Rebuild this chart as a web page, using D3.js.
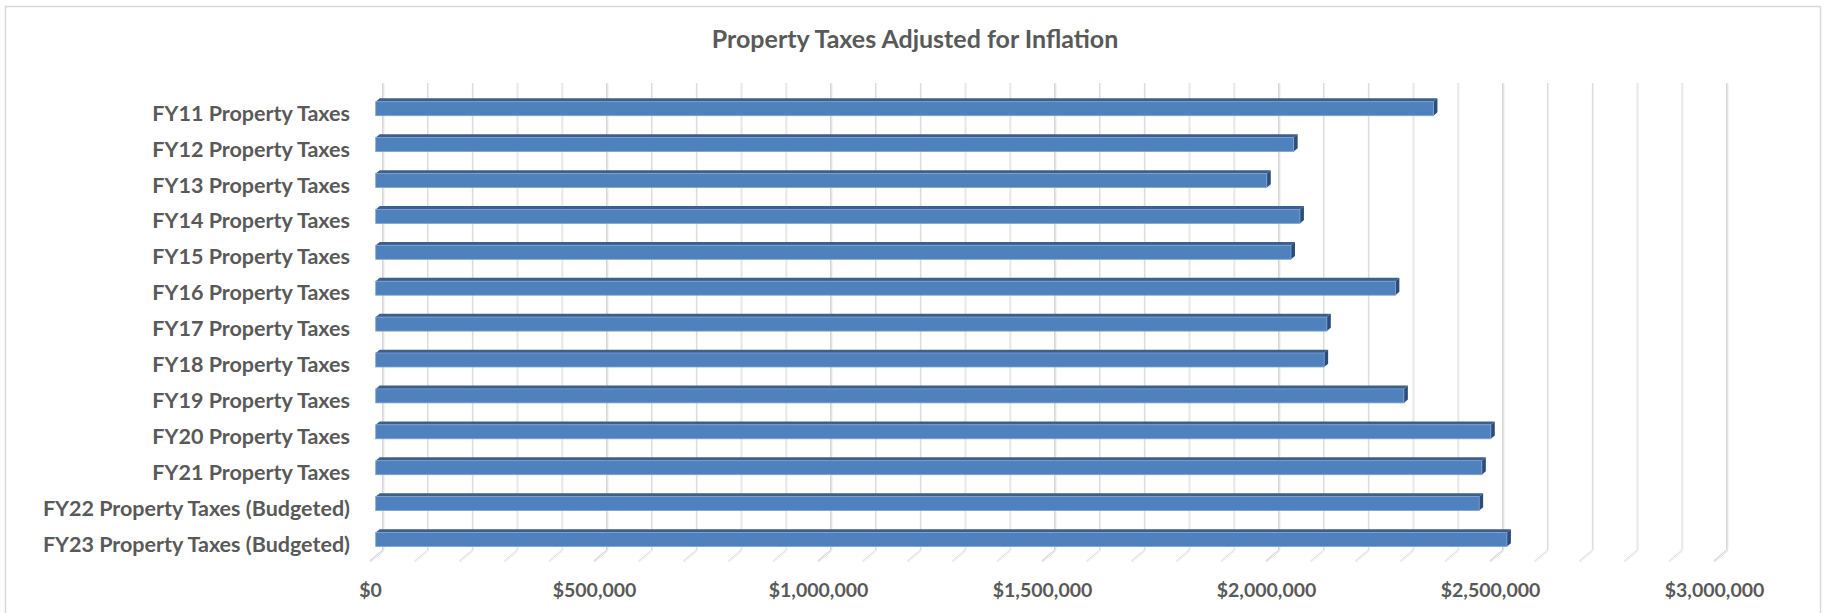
<!DOCTYPE html>
<html>
<head>
<meta charset="utf-8">
<script src="https://cdn.jsdelivr.net/npm/d3@7"></script>
<style>
  html, body { margin: 0; padding: 0; background: #ffffff; }
  svg { display: block; }
  text { font-family: Lato, "Open Sans", sans-serif; font-weight: 700; fill: #595959; }
</style>
</head>
<body>
<svg id="chart" width="1825" height="613"></svg>
<script>
// Property tax collections, inflation adjusted (USD)
const categories = [
  "FY11 Property Taxes",
  "FY12 Property Taxes",
  "FY13 Property Taxes",
  "FY14 Property Taxes",
  "FY15 Property Taxes",
  "FY16 Property Taxes",
  "FY17 Property Taxes",
  "FY18 Property Taxes",
  "FY19 Property Taxes",
  "FY20 Property Taxes",
  "FY21 Property Taxes",
  "FY22 Property Taxes (Budgeted)",
  "FY23 Property Taxes (Budgeted)"
];
const values = [2361000, 2049000, 1989000, 2063000, 2043000, 2276000, 2123000, 2117000, 2295000, 2489000, 2469000, 2463000, 2525000];
const tickValues = [0, 500000, 1000000, 1500000, 2000000, 2500000, 3000000];
const chartTitle = "Property Taxes Adjusted for Inflation";

const svg = d3.select("#chart");

// outer chart frame
svg.append("rect")
  .attr("x", 5.5).attr("y", 6.5)
  .attr("width", 1815).attr("height", 640)
  .attr("fill", "#ffffff").attr("stroke", "#d9d9d9").attr("stroke-width", 1.5);

// title
svg.append("text")
  .attr("x", 915).attr("y", 47.5)
  .attr("text-anchor", "middle")
  .style("font-size", "25px")
  .text(chartTitle);

// 3-D geometry: back wall plane and the oblique depth vector toward the viewer
const wallTop = 83, wallBottom = 550;
const depth = { dx: -13.3, dy: 11.2 };      // back wall -> front floor edge
const barFront = 0.57, barBack = 0.27;       // fraction of depth, measured from the back wall

const x = d3.scaleLinear().domain([0, 3000000]).range([383.3, 1727.3]);
const y = d3.scaleBand().domain(categories)
  .range([94.45, 561.15])
  .paddingInner(0.61).paddingOuter(0.305);

// positions on the bars' front plane
const fx = v => x(v) + depth.dx * barFront;
const fy = c => y(c) - 3.7;   // front face top edge
const bw = y.bandwidth();
const bdx = depth.dx * (barBack - barFront);   // bar depth offset (positive = to the right)
const bdy = depth.dy * (barBack - barFront);   // negative = upward

// wall gridlines every 100,000 (majors every 500,000 slightly darker)
const grid = x.ticks(30);
const gridG = svg.append("g");
grid.forEach(v => {
  const major = v % 500000 === 0;
  const gx = x(v);
  gridG.append("line")
    .attr("x1", gx - 0.5).attr("x2", gx - 0.5)
    .attr("y1", wallTop).attr("y2", wallBottom)
    .attr("stroke", major ? "#c6c6c6" : "#d9d9d9").attr("stroke-width", 1);
  gridG.append("line")
    .attr("x1", gx + 0.5).attr("x2", gx + 0.5)
    .attr("y1", wallTop).attr("y2", wallBottom)
    .attr("stroke", major ? "#e2e2e2" : "#ededed").attr("stroke-width", 1);
  // floor lines running toward the viewer
  gridG.append("line")
    .attr("x1", gx - 0.5).attr("y1", wallBottom)
    .attr("x2", gx - 0.5 + depth.dx).attr("y2", wallBottom + depth.dy)
    .attr("stroke", major ? "#c6c6c6" : "#d9d9d9").attr("stroke-width", 1);
  gridG.append("line")
    .attr("x1", gx + 0.7).attr("y1", wallBottom + 0.8)
    .attr("x2", gx + 0.7 + depth.dx).attr("y2", wallBottom + 0.8 + depth.dy)
    .attr("stroke", major ? "#e2e2e2" : "#ebebeb").attr("stroke-width", 1);
});

// bars: top face, right side face, front face
const bars = svg.append("g").selectAll("g").data(categories).join("g");
bars.append("path")
  .attr("d", (c, i) => {
    const x0 = fx(0), x1 = fx(values[i]), t = fy(c);
    return `M${x0},${t}L${x1},${t}L${x1 + bdx},${t + bdy}L${x0 + bdx},${t + bdy}Z`;
  })
  .attr("fill", "#3c5f8e");
bars.append("path")
  .attr("d", (c, i) => {
    const x1 = fx(values[i]), t = fy(c);
    return `M${x1},${t}L${x1 + bdx},${t + bdy}L${x1 + bdx},${t + bw + bdy}L${x1},${t + bw}Z`;
  })
  .attr("fill", "#2c4d79");
bars.append("rect")
  .attr("x", fx(0))
  .attr("y", c => fy(c))
  .attr("width", (c, i) => fx(values[i]) - fx(0))
  .attr("height", bw)
  .attr("fill", "#4f81bd")
  .attr("stroke", "#7ea2d2").attr("stroke-width", 0.8);

// category axis labels along the front-left edge
const catAxis = d3.axisLeft(y).tickSize(0).tickPadding(0);
svg.append("g")
  .attr("transform", "translate(350,1.5)")
  .call(catAxis)
  .call(g => g.select(".domain").remove())
  .selectAll("text")
  .attr("font-family", null).attr("font-size", null)
  .style("font-size", "21.5px").style("fill", "#595959");

// value axis labels along the front floor edge
const xFront = x.copy().range(x.range().map(r => r + depth.dx));
svg.append("g")
  .attr("transform", "translate(0,583)")
  .call(d3.axisBottom(xFront).tickValues(tickValues).tickFormat(d3.format("$,")).tickSize(0).tickPadding(0))
  .call(g => g.select(".domain").remove())
  .selectAll("text")
  .attr("font-family", null).attr("font-size", null)
  .style("font-size", "19.5px").style("fill", "#595959");
</script>
</body>
</html>
